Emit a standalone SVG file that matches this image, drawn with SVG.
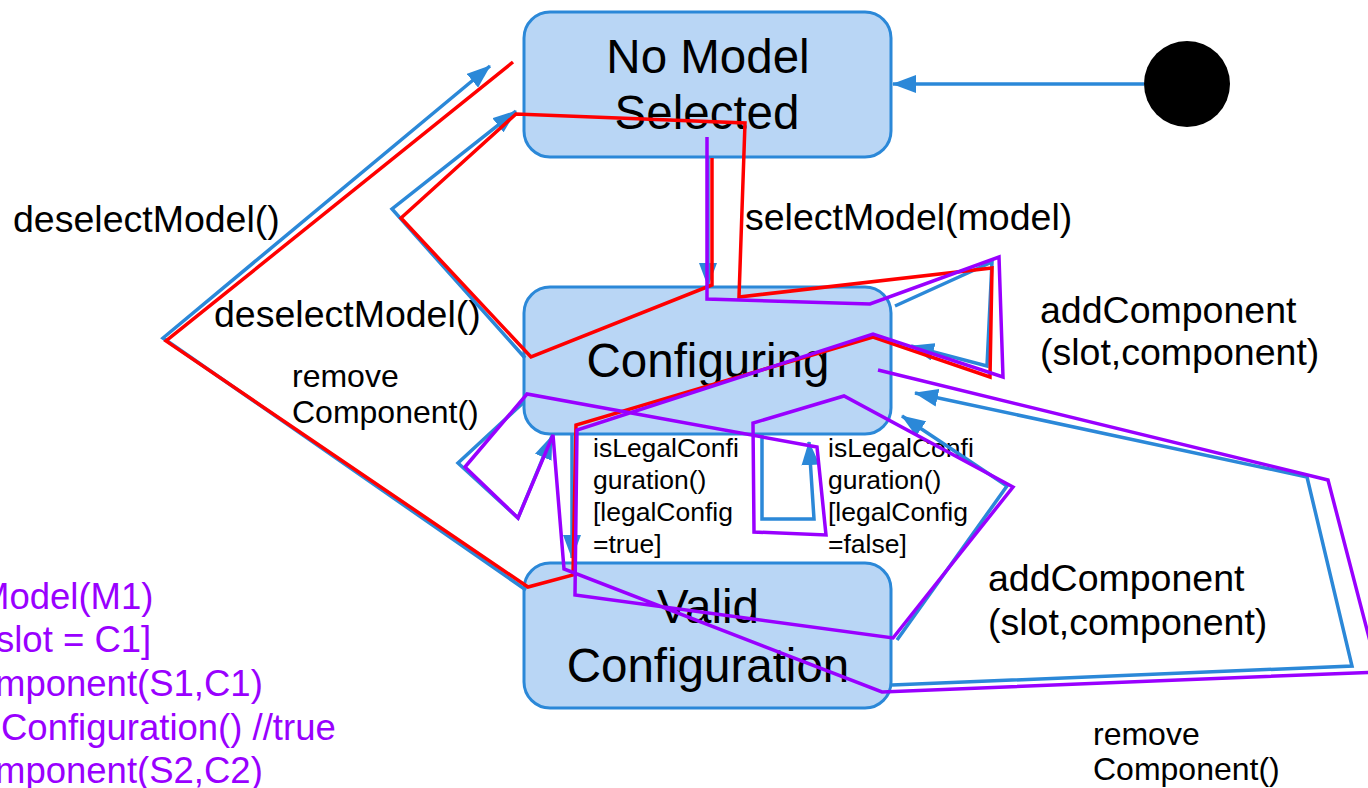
<svg xmlns="http://www.w3.org/2000/svg" width="1368" height="788" viewBox="0 0 1368 788">
<defs>
<style>
.state rect{fill:#b9d6f5;stroke:#2b88d8;stroke-width:3}
.state text{font-family:"Liberation Sans",Arial,sans-serif;font-size:47.5px;text-anchor:middle;fill:#000}
.lbl{font-family:"Liberation Sans",Arial,sans-serif;fill:#000}
.big{font-size:37.5px}
.mid{font-size:32px}
.small{font-size:26.5px}
.conn{fill:none;stroke:#2b88d8;stroke-width:3.5;marker-end:url(#arr)}
.red{fill:none;stroke:#ff0000;stroke-width:3.5}
.purple{fill:none;stroke:#9900ff;stroke-width:3.5}
.note{font-family:"Liberation Sans",Arial,sans-serif;font-size:36.5px;fill:#9900ff}
</style>
<marker id="arr" markerUnits="userSpaceOnUse" viewBox="0 0 24 18" refX="23" refY="9" markerWidth="24" markerHeight="18" orient="auto"><path d="M0,0 L24,9 L0,18 z" fill="#2b88d8"/></marker>
</defs>
<rect width="1368" height="788" fill="#ffffff"/>

<g id="noModelSelected" class="state">
<rect x="524" y="12" width="367" height="145" rx="26"/>
<text x="708" y="73">No Model</text>
<text x="707" y="129">Selected</text>
</g>
<g id="configuring" class="state">
<rect x="524" y="287" width="367" height="147" rx="26"/>
<text x="708" y="377">Configuring</text>
</g>
<g id="validConfiguration" class="state">
<rect x="524" y="563" width="367" height="145" rx="26"/>
<text x="708" y="623">Valid</text>
<text x="708" y="682">Configuration</text>
</g>
<g id="initial">
<circle cx="1187" cy="84" r="43" fill="#000"/>
</g>

<g id="labels" class="lbl">
<text class="big" x="13" y="232">deselectModel()</text>
<text class="big" x="214" y="327">deselectModel()</text>
<text class="big" x="745" y="230">selectModel(model)</text>
<text class="big" x="1040" y="323">addComponent</text>
<text class="big" x="1040" y="365">(slot,component)</text>
<text class="big" x="988" y="591">addComponent</text>
<text class="big" x="988" y="635">(slot,component)</text>
<text class="mid" x="292" y="387">remove</text>
<text class="mid" x="292" y="423">Component()</text>
<text class="mid" x="1093" y="745">remove</text>
<text class="mid" x="1093" y="780">Component()</text>
<text class="small" x="593" y="457">isLegalConfi</text>
<text class="small" x="593" y="489">guration()</text>
<text class="small" x="593" y="521">[legalConfig</text>
<text class="small" x="593" y="553">=true]</text>
<text class="small" x="828" y="457">isLegalConfi</text>
<text class="small" x="828" y="489">guration()</text>
<text class="small" x="828" y="521">[legalConfig</text>
<text class="small" x="828" y="553">=false]</text>
</g>

<g id="notes" class="note">
<text x="-21" y="609">Model(M1)</text>
<text x="-4" y="652">slot = C1]</text>
<text x="-5" y="696">mponent(S1,C1)</text>
<text x="1" y="740">Configuration() //true</text>
<text x="-5" y="783">mponent(S2,C2)</text>
</g>

<g id="connectors">
<path class="conn" d="M1144,84 L893,84"/>
<path class="conn" d="M708,157 L708,286"/>
<path class="conn" d="M526,590 L163,338 L490,66"/>
<path class="conn" d="M525,358 L392,209 L516,111"/>
<path class="conn" d="M524,402 L458,463 L518,518 L552,436"/>
<path class="conn" d="M572,435 L572,558"/>
<path class="conn" d="M762,435 L762,519 L814,519 L809,442"/>
<path class="conn" d="M895,306 L992,262 L987,366 L911,346"/>
<path class="conn" d="M897,640 L1007,486 L902,416"/>
<path class="conn" d="M892,685 L1352,666 L1307,477 L915,393"/>
</g>

<g id="traces">
<path class="red" d="M513,62 L166,341 L528,587 L573,575 L576,425 L873,337 L990,377 L992,268 L739,297 L745,123 L516,114 L401,218 L531,357 L712,285 L712,158"/>
<path class="purple" d="M707,137 L707,299 L870,304 L999,257 L1003,377 L873,334 L577,430 L575,595 L893,638 L1013,487 L844,396 L753,423 L754,532 L826,535 L817,447 L527,394 L465,467 L518,518 L553,435 L564,569 L882,692 L1378,672 L1328,480 L878,370"/>
</g>
</svg>
